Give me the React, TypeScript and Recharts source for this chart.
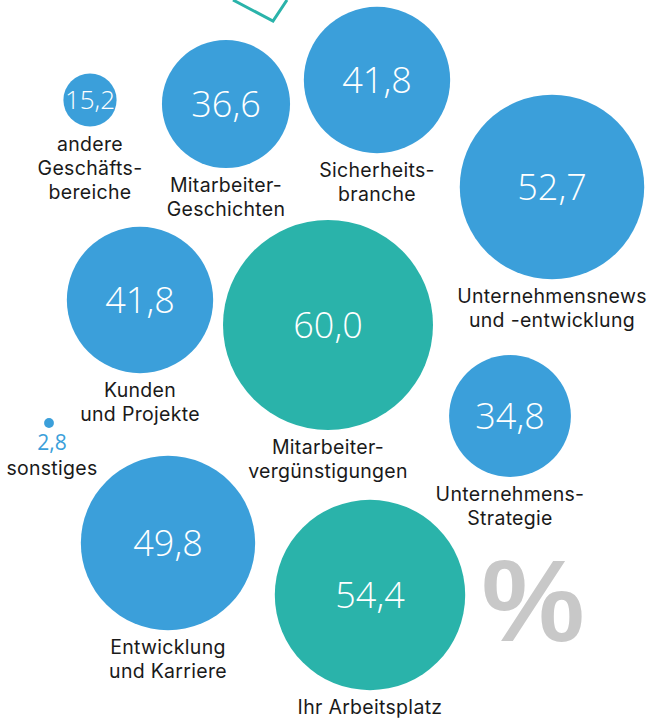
import { Scatter, ScatterChart, XAxis, YAxis, ZAxis } from "recharts";

const topics = [
  "andere Geschäftsbereiche",
  "Mitarbeiter-Geschichten",
  "Sicherheitsbranche",
  "Unternehmensnews und -entwicklung",
  "Kunden und Projekte",
  "Mitarbeitervergünstigungen",
  "Unternehmens-Strategie",
  "sonstiges",
  "Entwicklung und Karriere",
  "Ihr Arbeitsplatz",
];
const labelLines = [
  ["andere", "Geschäfts-", "bereiche"],
  ["Mitarbeiter-", "Geschichten"],
  ["Sicherheits-", "branche"],
  ["Unternehmensnews", "und -entwicklung"],
  ["Kunden", "und Projekte"],
  ["Mitarbeiter-", "vergünstigungen"],
  ["Unternehmens-", "Strategie"],
  ["sonstiges"],
  ["Entwicklung", "und Karriere"],
  ["Ihr Arbeitsplatz"],
];
const percents = [15.2, 36.6, 41.8, 52.7, 41.8, 60.0, 34.8, 2.8, 49.8, 54.4];
// bubble centres on a 651 x 721 layout grid
const posX = [90, 226, 377, 552, 140, 328, 510, 49, 168, 370];
const posY = [100, 104, 80, 187, 300, 325, 416, 423, 543, 595];
const highlighted = ["Mitarbeitervergünstigungen", "Ihr Arbeitsplatz"];

const BLUE = "#3b9fda";
const TEAL = "#2ab3aa";
const FONT = "'Open Sans', 'Noto Sans', sans-serif";
const LABEL_FONT = "Inter, 'Open Sans', sans-serif";
const R_PER_PCT = 1.75;

const data = topics.map((t, i) => ({
  topic: t,
  lines: labelLines[i],
  value: percents[i],
  x: posX[i],
  y: posY[i],
  // radius grows linearly with the value, so the area goes with value^2
  area: percents[i] * percents[i],
}));

const fmt = (v: number) => v.toFixed(1).replace(".", ",");

function Bubble(props: any) {
  const { cx, cy, size, payload } = props;
  const r = Math.sqrt(size / Math.PI);
  const fill = highlighted.includes(payload.topic) ? TEAL : BLUE;
  const small = r < 10;
  const valueSize = r < 40 ? 26 : 36;
  const lineX = cx + (small ? 3 : 0);
  const lineY = cy + r + (small ? 47 : 24);
  return (
    <g>
      <circle cx={cx} cy={cy} r={r} fill={fill} />
      {small ? (
        <text x={lineX} y={lineY - 25} textAnchor="middle" fill={BLUE} fontSize={21} fontFamily={FONT}>
          {fmt(payload.value)}
        </text>
      ) : (
        <text
          x={cx}
          y={cy}
          dy={valueSize * 0.36}
          textAnchor="middle"
          fill="#fff"
          fontSize={valueSize}
          fontWeight={300}
          fontFamily={FONT}
        >
          {fmt(payload.value)}
        </text>
      )}
      {payload.lines.map((ln: string, i: number) => (
        <text
          key={ln}
          x={lineX}
          y={lineY + i * 24}
          textAnchor="middle"
          fill="#1a1a1a"
          fontSize={19.5}
          letterSpacing={0.3}
          fontFamily={LABEL_FONT}
        >
          {ln}
        </text>
      ))}
    </g>
  );
}

export default function App() {
  const maxR = R_PER_PCT * 60;
  return (
    <div style={{ position: "absolute", left: 0, top: 0, width: 651, height: 721, background: "#fff" }}>
      <ScatterChart width={651} height={721} margin={{ top: 0, right: 0, bottom: 0, left: 0 }}>
        <XAxis type="number" dataKey="x" domain={[0, 651]} hide />
        <YAxis type="number" dataKey="y" domain={[0, 721]} reversed hide />
        <ZAxis type="number" dataKey="area" domain={[0, 3600]} range={[0, Math.PI * maxR * maxR]} />
        <Scatter data={data} shape={<Bubble />} isAnimationActive={false} />
      </ScatterChart>
      <svg width={651} height={721} style={{ position: "absolute", left: 0, top: 0, pointerEvents: "none" }}>
        <polyline points="233,0 273,21 287,0" fill="none" stroke={TEAL} strokeWidth={3} />
        <text
          x={533}
          y={641}
          textAnchor="middle"
          fill="#c8c8c8"
          fontSize={116}
          fontWeight={700}
          fontFamily="'Liberation Sans', Arial, sans-serif"
        >
          %
        </text>
      </svg>
    </div>
  );
}
